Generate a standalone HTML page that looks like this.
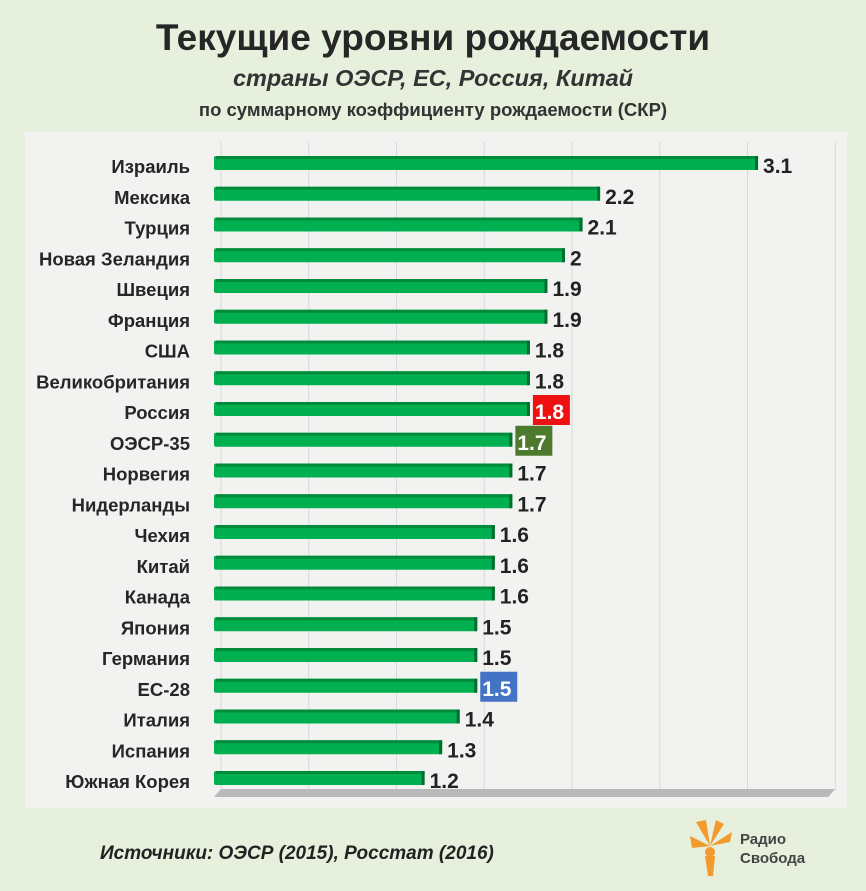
<!DOCTYPE html>
<html><head><meta charset="utf-8"><style>
body{margin:0;width:866px;height:891px;background:#e6f0dc;font-family:"Liberation Sans","Noto Sans CJK SC",sans-serif;overflow:hidden;position:relative}
.t{position:absolute;left:0;width:866px;text-align:center;color:#222}
</style></head><body>
<div class="t" style="top:17px;font-size:37px;font-weight:bold;color:#262626">Текущие уровни рождаемости</div>
<div class="t" style="top:65px;font-size:23.5px;font-weight:bold;font-style:italic;color:#333">страны ОЭСР, ЕС, Россия, Китай</div>
<div class="t" style="top:99px;font-size:18.5px;font-weight:bold;color:#333">по суммарному коэффициенту рождаемости (СКР)</div>
<svg id="c" width="866" height="891" style="position:absolute;left:0;top:0"></svg>
<div style="position:absolute;left:100px;top:843px;font-size:19px;font-weight:bold;font-style:italic;color:#222">Источники: ОЭСР (2015), Росстат (2016)</div>
<div style="position:absolute;left:688px;top:818px;width:140px;height:60px">
<svg width="46" height="58" style="position:absolute;left:0;top:0"><path d="M22 28 L8 4 L18 2Z M22 28 L28 2 L36 6Z M22 28 L44 14 L42 24Z M22 28 L2 18 L4 30Z" fill="#f29a2e"/><circle cx="22" cy="34" r="5" fill="#f29a2e"/><path d="M17 38 L20 58 L25 58 L27 38Z" fill="#f29a2e"/></svg>
<div style="position:absolute;left:52px;top:12px;font-size:15px;font-weight:bold;color:#444;line-height:19px">Радио<br>Свобода</div></div>
<script>
const categories=["Израиль","Мексика","Турция","Новая Зеландия","Швеция","Франция","США","Великобритания","Россия","ОЭСР-35","Норвегия","Нидерланды","Чехия","Китай","Канада","Япония","Германия","ЕС-28","Италия","Испания","Южная Корея"];
const values=[3.1,2.2,2.1,2,1.9,1.9,1.8,1.8,1.8,1.7,1.7,1.7,1.6,1.6,1.6,1.5,1.5,1.5,1.4,1.3,1.2];
const valueLabels=["3.1","2.2","2.1","2","1.9","1.9","1.8","1.8","1.8","1.7","1.7","1.7","1.6","1.6","1.6","1.5","1.5","1.5","1.4","1.3","1.2"];
const highlights={"Россия":"#ee1111","ОЭСР-35":"#4e7a2e","ЕС-28":"#4472c4"};
const gridTicks=[0,0.5,1,1.5,2,2.5,3,3.5];
const NS="http://www.w3.org/2000/svg",svg=document.getElementById('c');
const x0=214,pxPerUnit=175.5,y0=163,step=30.75,bh=14,depth=7;
const xs=v=>x0+v*pxPerUnit, ys=i=>y0+i*step;
function el(t,a,p){const e=document.createElementNS(NS,t);for(const k in a)e.setAttribute(k,a[k]);(p||svg).appendChild(e);return e;}
let panel=el('rect',{x:25,y:132,width:822,height:676,fill:'#f2f2f1'});


gridTicks.forEach(t=>{let g=el('line',{x1:xs(t)+depth,x2:xs(t)+depth,y1:142,y2:790,stroke:'#d8d8d8','stroke-width':1});

});
let fl=el('polygon',{points:`${x0} 797 ${x0+depth} 789 ${xs(3.5)+depth} 789 ${xs(3.5)} 797`,fill:'#b9b9b9'});


categories.forEach((c,i)=>{
 const y=ys(i),x1=xs(values[i]);
 let lab=el('text',{x:190,y:y+10,'text-anchor':'end','font-size':18.5,'font-weight':'bold',fill:'#262626'});lab.textContent=c;
 
 
 let b=el('rect',{x:x0,y:y-bh/2,width:x1-x0,height:bh,fill:'#00b050',rx:2});
 
 
 el('rect',{x:x0+2,y:y-bh/2,width:x1-x0-2,height:3,fill:'#008a3a'});
 el('rect',{x:x1-3,y:y-bh/2,width:3,height:bh,fill:'#006e2e'});
 const h=highlights[c];
 if(h){let bg=el('rect',{x:x1+3,y:y-14,width:37,height:30,fill:h});
  
  }
 let v=el('text',{x:x1+5,y:y+10,'font-size':21,'font-weight':'bold',fill:h?'#fff':'#222'});v.textContent=valueLabels[i];
 
 
});
</script>
</body></html>
